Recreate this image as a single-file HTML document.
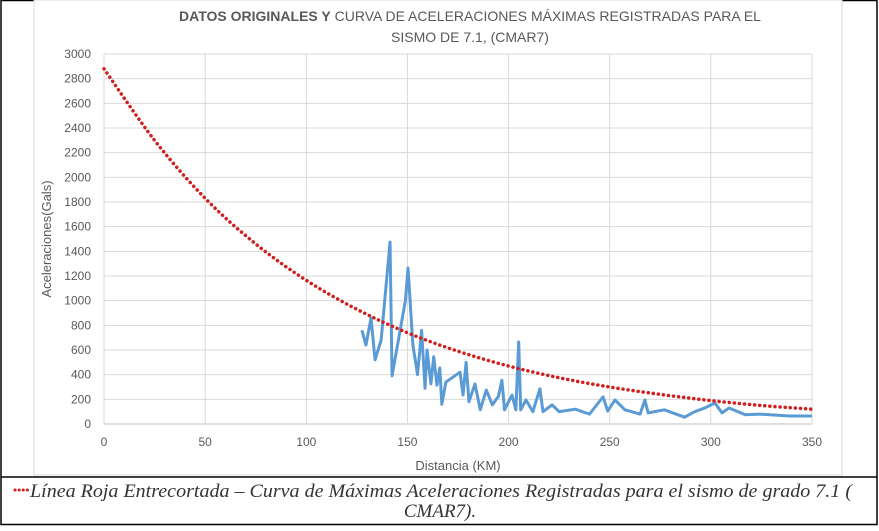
<!DOCTYPE html>
<html><head><meta charset="utf-8"><style>
body{margin:0;background:#fff;width:879px;height:526px;overflow:hidden;font-family:"Liberation Sans",sans-serif}
</style></head><body>
<svg width="879" height="526" xmlns="http://www.w3.org/2000/svg">
<rect x="1" y="0.5" width="876" height="524" fill="#fff" stroke="#000" stroke-width="1.5"/>
<line x1="1" y1="477" x2="877" y2="477" stroke="#000" stroke-width="1.5"/>
<rect x="34" y="0" width="808" height="475" fill="#fff" stroke="#d9d9d9"/>
<g id="grid"></g>
<g id="ylab" font-size="12" fill="#595959" text-anchor="end"></g>
<g id="xlab" font-size="12" fill="#595959" text-anchor="middle"></g>
<text x="470" y="21" text-anchor="middle" font-size="14" fill="#595959"><tspan font-weight="bold">DATOS ORIGINALES Y</tspan> CURVA DE ACELERACIONES MÁXIMAS REGISTRADAS PARA EL</text>
<text x="470" y="42" text-anchor="middle" font-size="14" fill="#595959">SISMO DE 7.1, (CMAR7)</text>
<text transform="translate(51,239) rotate(-90)" text-anchor="middle" font-size="13" fill="#595959">Aceleraciones(Gals)</text>
<text x="458" y="470" text-anchor="middle" font-size="13" fill="#595959">Distancia (KM)</text>
<path id="blue" fill="none" stroke="#5b9bd5" stroke-width="3" stroke-linejoin="round"/>
<path id="red" fill="none" stroke="#d01f1f" stroke-width="3.5" stroke-dasharray="0.1 5" stroke-linecap="round"/>
<line x1="15" y1="490" x2="29" y2="490" stroke="#d01f1f" stroke-width="3" stroke-dasharray="0.1 4" stroke-linecap="round"/>
<text x="30" y="497" textLength="822" lengthAdjust="spacingAndGlyphs" font-family="Liberation Serif" font-style="italic" font-size="19" fill="#333">Línea Roja Entrecortada – Curva de Máximas Aceleraciones Registradas para el sismo de grado 7.1 (</text>
<text x="440" y="517" text-anchor="middle" font-family="Liberation Serif" font-style="italic" font-size="19" fill="#333">CMAR7).</text>
</svg>
<script>
const yTicks=[0,200,400,600,800,1000,1200,1400,1600,1800,2000,2200,2400,2600,2800,3000];
const xTicks=[0,50,100,150,200,250,300,350];
const curveKm=[0,25,50,75,100,125,150,175,200,225,250,275,300,325,350];
const curveGals=[2880,2300,1830,1460,1165,930,740,590,470,375,300,240,190,150,120];
const obsKm=[127.5,129.5,132,134,137,141.4,142.4,149,150.3,152.7,155,157,158.7,159.7,161.6,163,164.6,166,167,169,176,177.5,179,180.4,183.4,186,189,192,195,196.7,198,201.7,203.6,205,206,208.6,212,215.5,217,221.5,225,233,240,246.7,249,252.6,257.5,265,267.4,269,277,287,292,297,302,305.5,309,317,324,339,350];
const obsGals=[760,640,860,520,680,1475,390,1000,1265,640,400,760,290,600,325,545,315,455,160,340,420,235,500,180,325,115,275,155,225,355,115,235,115,665,115,195,100,285,100,155,100,120,80,220,105,195,115,80,195,90,115,55,100,130,170,90,130,75,80,65,65];
const X=v=>104+v*(812-104)/350, Y=v=>424-v*(424-54)/3000;
const ns='http://www.w3.org/2000/svg';
const grid=document.getElementById('grid'),yl=document.getElementById('ylab'),xl=document.getElementById('xlab');
yTicks.forEach(t=>{const l=document.createElementNS(ns,'line');


l.setAttribute('x1',104);l.setAttribute('x2',812);l.setAttribute('y1',Y(t));l.setAttribute('y2',Y(t));
l.setAttribute('stroke',t===0?'#bfbfbf':'#d9d9d9');l.setAttribute('stroke-width',1);grid.appendChild(l);
const s=document.createElementNS(ns,'text');


s.setAttribute('x',91);s.setAttribute('y',Y(t)+4);s.textContent=t;yl.appendChild(s);});
xTicks.forEach(t=>{const l=document.createElementNS(ns,'line');


l.setAttribute('x1',X(t));l.setAttribute('x2',X(t));l.setAttribute('y1',54);l.setAttribute('y2',424);
l.setAttribute('stroke','#d9d9d9');grid.appendChild(l);
const s=document.createElementNS(ns,'text');


s.setAttribute('x',X(t));s.setAttribute('y',446);s.textContent=t;xl.appendChild(s);});
document.getElementById('blue').setAttribute('d',obsKm.map((k,i)=>(i?'L':'M')+X(k)+','+Y(obsGals[i])).join(''));
const p=curveKm.map((k,i)=>[X(k),Y(curveGals[i])]);
let d='M'+p[0];
for(let i=0;i<p.length-1;i++){const a=p[i-1]||p[i],b=p[i],c=p[i+1],e=p[i+2]||c;
d+='C'+(b[0]+(c[0]-a[0])/6)+','+(b[1]+(c[1]-a[1])/6)+' '+(c[0]-(e[0]-b[0])/6)+','+(c[1]-(e[1]-b[1])/6)+' '+c[0]+','+c[1];}
document.getElementById('red').setAttribute('d',d);
</script>
</body></html>
